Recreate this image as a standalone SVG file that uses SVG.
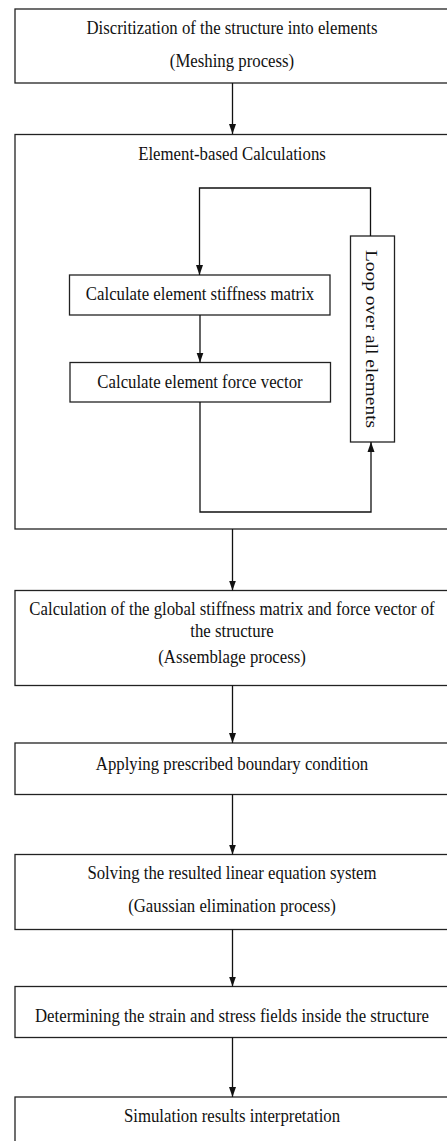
<svg xmlns="http://www.w3.org/2000/svg" width="447" height="1141" viewBox="0 0 447 1141">
<style>
.box{fill:#fff;stroke:#222;stroke-width:1.3}
.ln{fill:none;stroke:#111;stroke-width:1.3}
.t{font-family:"Liberation Serif","Times New Roman",serif;font-size:19.4px;fill:#111;text-anchor:middle}
</style>
<defs>
<marker id="ah" markerWidth="10" markerHeight="8" refX="10" refY="4" orient="auto" markerUnits="userSpaceOnUse">
<path d="M0,0.5 L10,4 L0,7.5 z" fill="#111"/>
</marker>
</defs>
<rect width="447" height="1141" fill="#fff"/>
<g id="n1">
<rect class="box" x="15" y="9" width="440" height="74"/>
<text class="t" transform="translate(232,34.3) scale(0.865,1)">Discritization of the structure into elements</text>
<text class="t" transform="translate(232,67) scale(0.865,1)">(Meshing process)</text>
</g>
<g id="n2">
<rect class="box" x="15" y="134.5" width="440" height="394.5"/>
<text class="t" transform="translate(232,160) scale(0.865,1)">Element-based Calculations</text>
</g>
<g id="n2a">
<rect class="box" x="69.5" y="275" width="260.5" height="40"/>
<text class="t" transform="translate(200,300) scale(0.865,1)">Calculate element stiffness matrix</text>
</g>
<g id="n2b">
<rect class="box" x="70" y="362.5" width="260.5" height="39.5"/>
<text class="t" transform="translate(200,388) scale(0.865,1)">Calculate element force vector</text>
</g>
<g id="n2c">
<rect class="box" x="350.5" y="236" width="44" height="206"/>
<text class="t" transform="translate(366,339) rotate(90) scale(1,0.865)">Loop over all elements</text>
</g>
<g id="n3">
<rect class="box" x="15" y="590.5" width="440" height="95"/>
<text class="t" transform="translate(232,615) scale(0.865,1)">Calculation of the global stiffness matrix and force vector of</text>
<text class="t" transform="translate(232,636.7) scale(0.865,1)">the structure</text>
<text class="t" transform="translate(232,663.3) scale(0.865,1)">(Assemblage process)</text>
</g>
<g id="n4">
<rect class="box" x="15" y="743" width="440" height="51.5"/>
<text class="t" transform="translate(232,770) scale(0.865,1)">Applying prescribed boundary condition</text>
</g>
<g id="n5">
<rect class="box" x="15" y="854.5" width="440" height="75"/>
<text class="t" transform="translate(232,879.3) scale(0.865,1)">Solving the resulted linear equation system</text>
<text class="t" transform="translate(232,911.7) scale(0.865,1)">(Gaussian elimination process)</text>
</g>
<g id="n6">
<rect class="box" x="15" y="986.5" width="440" height="51"/>
<text class="t" transform="translate(232,1021.7) scale(0.865,1)">Determining the strain and stress fields inside the structure</text>
</g>
<g id="n7">
<rect class="box" x="15" y="1097" width="440" height="60"/>
<text class="t" transform="translate(232,1122) scale(0.865,1)">Simulation results interpretation</text>
</g>
<g id="connectors">
<path class="ln" d="M232.5,83 V134" marker-end="url(#ah)"/>
<path class="ln" d="M370.5,236 V188 H199.5 V275" marker-end="url(#ah)"/>
<path class="ln" d="M200,315 V362.5" marker-end="url(#ah)"/>
<path class="ln" d="M200,402 V512 H371 V442" marker-end="url(#ah)"/>
<path class="ln" d="M232.5,529 V590.5" marker-end="url(#ah)"/>
<path class="ln" d="M232.5,685.5 V743" marker-end="url(#ah)"/>
<path class="ln" d="M232.5,794.5 V854.5" marker-end="url(#ah)"/>
<path class="ln" d="M232.5,929.5 V986.5" marker-end="url(#ah)"/>
<path class="ln" d="M232.5,1037.5 V1097" marker-end="url(#ah)"/>
</g>
</svg>
